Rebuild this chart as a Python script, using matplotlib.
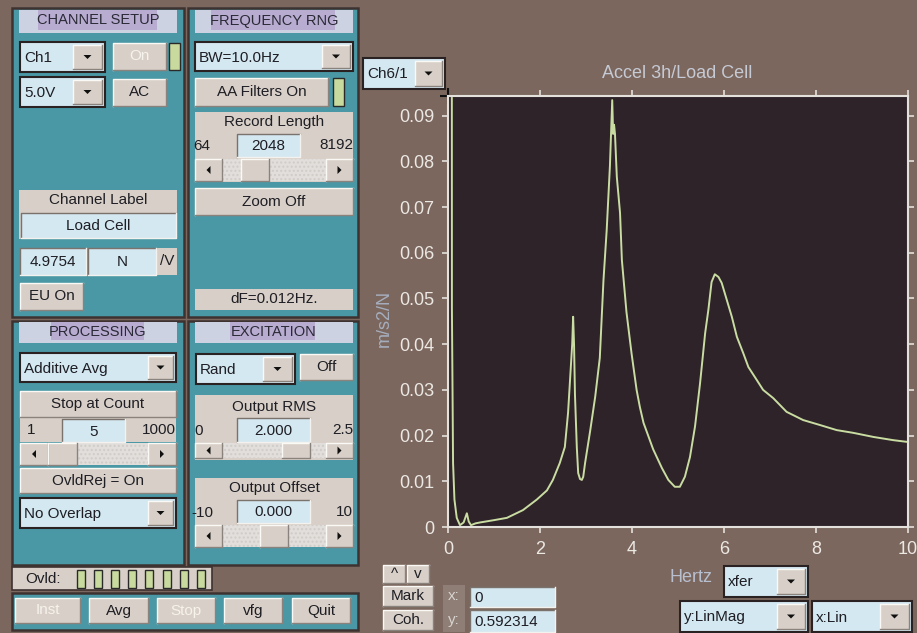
import matplotlib.pyplot as plt
from matplotlib.patches import Rectangle, Polygon

plt.rcParams["font.family"] = ["Liberation Sans", "DejaVu Sans"]

# transfer function magnitude (Hz, m/s2/N)
freq_hz = [0.0, 0.075, 0.085, 0.11, 0.14, 0.19, 0.26, 0.34, 0.41, 0.45, 0.50,
           0.60, 0.70, 1.00, 1.28, 1.63, 1.93, 2.15, 2.28, 2.43, 2.54, 2.61,
           2.67, 2.70, 2.72, 2.74, 2.76, 2.80, 2.83, 2.87, 2.91, 2.94, 2.98,
           3.09, 3.20, 3.30, 3.38, 3.45, 3.52, 3.57, 3.59, 3.61, 3.63, 3.67,
           3.74, 3.78, 3.88, 3.99, 4.10, 4.17, 4.25, 4.46, 4.65, 4.79, 4.93,
           5.04, 5.15, 5.26, 5.37, 5.48, 5.59, 5.66, 5.73, 5.80, 5.88, 5.95,
           6.06, 6.17, 6.28, 6.42, 6.53, 6.71, 6.85, 7.07, 7.36, 7.72, 8.09,
           8.45, 8.81, 9.25, 9.68, 10.0]
mag = [0.592, 0.35, 0.048, 0.014, 0.006, 0.002, 0.0004, 0.001, 0.003, 0.0012,
       0.0004, 0.0008, 0.001, 0.0015, 0.002, 0.0037, 0.006, 0.008, 0.0103,
       0.014, 0.0175, 0.025, 0.035, 0.040, 0.046, 0.040, 0.029, 0.0175, 0.0118,
       0.0105, 0.0103, 0.011, 0.014, 0.021, 0.0285, 0.037, 0.054, 0.065, 0.079,
       0.0934, 0.086, 0.088, 0.086, 0.0766, 0.0687, 0.0584, 0.047, 0.038, 0.030,
       0.0263, 0.0228, 0.017, 0.0129, 0.0103, 0.0088, 0.0088, 0.011, 0.0153,
       0.022, 0.0315, 0.0424, 0.0475, 0.0536, 0.0553, 0.0547, 0.0534, 0.0497,
       0.046, 0.0416, 0.038, 0.035, 0.0322, 0.030, 0.0282, 0.0252, 0.0234,
       0.0223, 0.0212, 0.0206, 0.0197, 0.019, 0.0186]
x_ticks = [0, 2, 4, 6, 8, 10]
y_ticks = [0, 0.01, 0.02, 0.03, 0.04, 0.05, 0.06, 0.07, 0.08, 0.09]
y_tick_labels = ["0", "0.01", "0.02", "0.03", "0.04", "0.05", "0.06", "0.07",
                 "0.08", "0.09"]

BG = "#7b675e"
TEAL = "#4a98a5"
EDGE = "#3e3230"
BTN = "#d8d0c8"
FIELD = "#d4e8f1"
LAV = "#cdd2e2"
HILITE = "#b9acd1"
LED = "#c8da9e"
TXT = "#1e1e24"
FS = 11

fig = plt.figure(figsize=(9.17, 6.33), dpi=100)
fig.patch.set_facecolor(BG)
gui = fig.add_axes([0, 0, 1, 1])
gui.set_xlim(0, 917)
gui.set_ylim(633, 0)
gui.axis("off")


def rect(x0, y0, x1, y1, fc, ec="none", lw=0.0, **kw):
    gui.add_patch(Rectangle((x0, y0), x1 - x0, y1 - y0, facecolor=fc,
                            edgecolor=ec, linewidth=lw, **kw))


def bevel(x0, y0, x1, y1, raised=True):
    light, dark = ("#fbf9f6", "#8a827c") if raised else ("#7a726c", "#f4f2ee")
    gui.plot([x0, x0, x1], [y1, y0, y0], color=light, lw=1.0)
    gui.plot([x0, x1, x1], [y1, y1, y0], color=dark, lw=1.0)


def label(x, y, s, ha="center", color=TXT, fs=FS):
    gui.text(x, y, s, ha=ha, va="center", color=color, fontsize=fs)


def button(x0, y0, x1, y1, s="", disabled=False):
    rect(x0, y0, x1, y1, BTN)
    bevel(x0, y0, x1, y1)
    if s:
        label((x0 + x1) / 2, (y0 + y1) / 2, s,
              color="#f6f2ec" if disabled else TXT)


def field(x0, y0, x1, y1, s, ha="center"):
    rect(x0, y0, x1, y1, FIELD)
    bevel(x0, y0, x1, y1, raised=False)
    tx = (x0 + x1) / 2 if ha == "center" else x0 + 4
    label(tx, (y0 + y1) / 2 + 1, s, ha=ha)


def tri(cx, cy, d, s=4.0):
    if d == "down":
        pts = [(cx - s, cy - s / 2), (cx + s, cy - s / 2), (cx, cy + s / 2)]
    elif d == "left":
        pts = [(cx + s / 2, cy - s), (cx + s / 2, cy + s), (cx - s / 2, cy)]
    else:
        pts = [(cx - s / 2, cy - s), (cx - s / 2, cy + s), (cx + s / 2, cy)]
    gui.add_patch(Polygon(pts, closed=True, facecolor="#101010",
                          edgecolor="none"))


def dropdown(x0, y0, x1, y1, split, s):
    rect(x0, y0, x1, y1, FIELD, ec="#2a2222", lw=1.5)
    label(x0 + 4, (y0 + y1) / 2 + 1, s, ha="left")
    button(split, y0 + 3, x1 - 3, y1 - 3)
    tri((split + x1 - 3) / 2, (y0 + y1) / 2, "down")


def header(x0, y0, x1, y1, hx0, hx1, s):
    rect(x0, y0, x1, y1, LAV)
    rect(hx0, y0, hx1, y1 - 3, HILITE)
    label((x0 + x1) / 2, (y0 + y1) / 2 - 1, s, fs=10.5, color="#2a2a36")


def led(x0, y0, x1, y1):
    rect(x0, y0, x1, y1, LED, ec="#2a2a2a", lw=1.0)


def slider(x0, y0, x1, y1, t0, t1, aw=27):
    rect(x0, y0, x1, y1, "#e2dedb")
    gui.add_patch(Rectangle((x0, y0), x1 - x0, y1 - y0, fill=False,
                            hatch="....", edgecolor="#d0ccc8", linewidth=0))
    button(x0, y0, x0 + aw, y1)
    tri(x0 + aw / 2, (y0 + y1) / 2, "left")
    button(x1 - aw, y0, x1, y1)
    tri(x1 - aw / 2, (y0 + y1) / 2, "right")
    button(t0, y0, t1, y1)


# panels
for px0, py0, px1, py1 in [(12, 8, 184, 317), (188, 8, 358, 317),
                           (12, 321, 184, 565), (188, 321, 358, 565),
                           (12, 593, 358, 630)]:
    rect(px0, py0, px1, py1, TEAL, ec=EDGE, lw=1.8)

# CHANNEL SETUP
header(19, 10, 177, 33, 38, 157, "CHANNEL SETUP")
dropdown(20, 42, 105, 72, 73, "Ch1")
button(113, 43, 166, 70, "On", disabled=True)
led(169, 43, 180, 70)
dropdown(20, 77, 105, 107, 73, "5.0V")
button(113, 79, 166, 106, "AC")
rect(19, 190, 177, 239, BTN)
label(98, 200, "Channel Label")
field(21, 213, 176, 238, "Load Cell")
field(20, 248, 86, 275, "4.9754")
field(88, 248, 156, 275, "N")
rect(157, 248, 177, 275, BTN)
label(167, 261, "/V")
button(20, 283, 83, 310, "EU On")

# FREQUENCY RNG
header(195, 10, 353, 33, 211, 335, "FREQUENCY RNG")
dropdown(195, 42, 353, 71, 322, "BW=10.0Hz")
button(195, 78, 328, 106, "AA Filters On")
led(333, 78, 344, 106)
rect(195, 112, 353, 182, BTN)
label(274, 122, "Record Length")
label(193, 146, "64", ha="left")
label(353, 145, "8192", ha="right")
field(237, 134, 300, 157, "2048")
slider(195, 159, 353, 181, 241, 269)
button(195, 188, 353, 215, "Zoom Off")
rect(195, 289, 353, 310, BTN)
label(274, 299, "dF=0.012Hz.")

# PROCESSING
header(19, 322, 177, 343, 51, 144, "PROCESSING")
dropdown(20, 353, 176, 382, 148, "Additive Avg")
button(20, 391, 176, 417, "Stop at Count")
rect(20, 417, 176, 442, BTN)
label(27, 430, "1", ha="left")
label(176, 430, "1000", ha="right")
field(62, 419, 125, 442, "5")
slider(20, 443, 176, 465, 48, 77, aw=28)
button(20, 468, 176, 493, "OvldRej = On")
dropdown(20, 498, 176, 528, 148, "No Overlap")

# EXCITATION
header(195, 322, 353, 343, 230, 315, "EXCITATION")
dropdown(196, 354, 295, 384, 263, "Rand")
button(300, 354, 353, 380, "Off")
rect(195, 395, 353, 460, BTN)
label(274, 407, "Output RMS")
label(194, 431, "0", ha="left")
label(353, 430, "2.5", ha="right")
field(237, 418, 310, 442, "2.000")
slider(195, 443, 353, 458, 282, 310)
rect(195, 478, 353, 547, BTN)
label(274, 488, "Output Offset")
label(191, 513, "-10", ha="left")
label(353, 512, "10", ha="right")
field(237, 500, 310, 523, "0.000")
slider(195, 525, 353, 547, 260, 288)

# overload row and bottom bar
rect(12, 567, 212, 590, BTN, ec=EDGE, lw=1.2)
label(25, 579, "Ovld:", ha="left")
for i in range(8):
    lx = 77 + i * 17.1
    led(lx, 570, lx + 8, 588)
for bx0, bx1, s, dis in [(15, 80, "Inst", True), (89, 148, "Avg", False),
                         (157, 215, "Stop", True), (224, 282, "vfg", False),
                         (292, 350, "Quit", False)]:
    button(bx0, 598, bx1, 623, s, disabled=dis)

# controls around the plot
dropdown(363, 58, 445, 89, 415, "Ch6/1")
button(383, 565, 405, 583, "^")
button(407, 565, 429, 583, "v")
button(383, 586, 433, 606, "Mark")
button(383, 610, 433, 630, "Coh.")
rect(443, 585, 465, 632, "#8e7e76")
label(454, 596, "x:", color="#d8d4d0")
label(454, 620, "y:", color="#d8d4d0")
field(470, 587, 555, 607, "0", ha="left")
field(470, 610, 555, 632, "0.592314", ha="left")
dropdown(724, 566, 808, 597, 777, "xfer")
dropdown(680, 601, 808, 632, 777, "y:LinMag")
dropdown(812, 601, 912, 632, 880, "x:Lin")

gui.text(677, 73, "Accel 3h/Load Cell", ha="center", va="center",
         color="#c6cad4", fontsize=13)
gui.text(384, 318, "m/s2/N", ha="center", va="center", rotation=90,
         color="#a6aebe", fontsize=13)
gui.text(691, 577, "Hertz", ha="center", va="center", color="#b8c0d0",
         fontsize=13)

# plot area
ax = fig.add_axes([448 / 917, 1 - 527 / 633, 460 / 917, 431 / 633])
ax.set_facecolor("#2e2329")
ax.plot(freq_hz, mag, color="#c9dca2", lw=1.4)
ax.set_xlim(0, 10)
ax.set_ylim(0, 0.0943)
ax.set_xticks(x_ticks)
ax.set_yticks(y_ticks)
ax.set_yticklabels(y_tick_labels)
for sp in ax.spines.values():
    sp.set_color("#e4e0dc")
    sp.set_linewidth(1.5)
ax.tick_params(direction="out", length=4, width=1.2, color="#e4e0dc",
               labelcolor="#ece8e4", labelsize=13, top=True, right=True,
               pad=6)
ax.plot([0], [0.0943], marker="+", color="#101010", markersize=11,
        mew=1.5, clip_on=False)

fig.savefig("out.png", dpi=100, facecolor=fig.get_facecolor())
